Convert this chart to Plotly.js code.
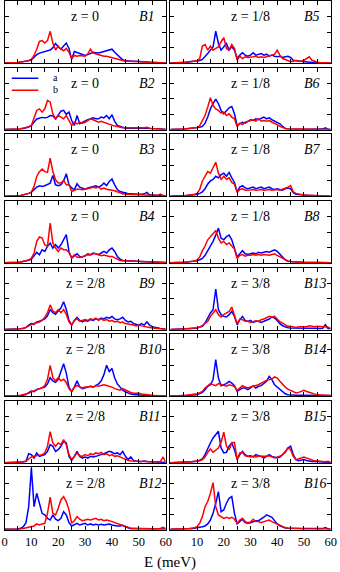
<!DOCTYPE html>
<html>
<head>
<meta charset="utf-8">
<script src="https://cdn.plot.ly/plotly-3.0.1.min.js"></script>
<style>
  html, body { margin: 0; padding: 0; background: #fff; }
  #plot { width: 340px; height: 572px; }
</style>
</head>
<body>
<div id="plot"></div>
<script>
// energy grid (meV)
var E = [0,1,2,3,4,5,6,7,8,9,10,11,12,13,14,15,16,17,18,19,20,21,22,23,24,25,26,27,28,29,
         30,31,32,33,34,35,36,37,38,39,40,41,42,43,44,45,46,47,48,49,50,51,52,53,54,55,56,57,58,59,60];

// "a" (blue) and "b" (red) spectra, one pair per panel
var b1a = [0.02,0.02,0.03,0.03,0.04,0.05,0.07,0.09,0.12,0.15,
  0.22,0.4,0.55,0.65,0.7,0.72,0.8,0.85,1.0,1.27, 1.05,0.9,1.1,1.3,0.95,0.25,0.75,0.7,0.6,0.55,
  0.5,0.55,0.6,0.7,0.68,0.65,0.7,0.75,0.8,0.85, 0.9,0.7,0.55,0.35,0.22,0.15,0.13,0.12,0.13,0.12,
  0.12,0.12,0.1,0.08,0.06,0.05,0.04,0.03,0.03,0.02,0.02];
var b1b = [0.02,0.02,0.03,0.03,0.04,0.05,0.07,0.1,0.13,0.18,
  0.25,0.5,0.9,1.4,1.45,1.3,1.45,2.05,1.3,0.85, 1.1,0.9,0.8,0.95,0.7,0.3,0.5,0.45,0.5,0.45,
  0.45,0.6,0.9,0.65,0.6,0.55,0.5,0.45,0.45,0.4, 0.35,0.3,0.25,0.2,0.15,0.13,0.13,0.12,0.13,0.12,
  0.13,0.1,0.1,0.07,0.05,0.04,0.03,0.03,0.02,0.02,0.02];
var b2a = [0.02,0.02,0.03,0.03,0.04,0.05,0.06,0.08,0.12,0.18,
  0.28,0.5,0.7,0.75,0.8,0.78,0.8,0.92,0.9,0.7, 0.92,1.2,1.25,1.0,1.14,0.6,0.28,0.92,0.4,0.5,
  0.6,0.65,0.71,0.77,0.72,0.71,0.82,0.77,0.92,0.71, 0.97,0.55,0.28,0.22,0.17,0.11,0.11,0.1,0.11,0.1,
  0.11,0.1,0.1,0.12,0.09,0.09,0.07,0.07,0.06,0.04,0.03];
var b2b = [0.02,0.02,0.03,0.03,0.04,0.05,0.07,0.1,0.14,0.2,
  0.28,0.71,1.25,1.35,1.14,1.35,1.89,1.78,1.03,0.71, 0.92,0.82,0.71,0.92,0.6,0.28,0.49,0.39,0.49,0.43,
  0.49,0.6,0.71,0.65,0.55,0.49,0.55,0.49,0.39,0.34, 0.28,0.24,0.22,0.17,0.13,0.13,0.13,0.12,0.13,0.13,
  0.13,0.12,0.13,0.17,0.1,0.09,0.07,0.05,0.04,0.03,0.02];
var b3a = [0.02,0.02,0.03,0.03,0.04,0.05,0.07,0.1,0.14,0.2,
  0.28,0.45,0.6,0.69,0.65,0.69,0.75,0.86,1.35,0.75, 0.7,0.75,1.0,1.46,0.75,0.55,0.43,0.82,0.6,0.54,
  0.47,0.54,0.6,0.65,0.69,0.6,0.69,0.86,0.7,0.97, 1.12,0.75,0.45,0.32,0.26,0.2,0.17,0.17,0.15,0.15,
  0.15,0.15,0.17,0.26,0.11,0.1,0.08,0.07,0.06,0.05,0.04];
var b3b = [0.02,0.02,0.03,0.03,0.04,0.05,0.07,0.1,0.14,0.2,
  0.28,0.65,1.29,1.6,1.76,1.6,1.55,2.47,1.6,1.07, 0.86,0.86,1.03,0.75,0.75,0.32,0.4,0.47,0.47,0.43,
  0.47,0.5,0.54,0.6,0.54,0.6,0.47,0.54,0.47,0.43, 0.43,0.37,0.3,0.22,0.17,0.15,0.14,0.13,0.13,0.13,
  0.12,0.12,0.11,0.1,0.09,0.08,0.07,0.07,0.15,0.05,0.04];
var b4a = [0.02,0.02,0.03,0.03,0.04,0.05,0.07,0.1,0.13,0.18,
  0.26,0.45,0.69,0.54,0.86,0.75,1.08,1.29,0.97,1.18, 0.97,1.18,1.5,1.83,0.75,0.32,0.47,0.6,0.43,0.39,
  0.47,0.6,0.54,0.65,0.6,0.54,0.65,0.75,0.65,0.86, 0.97,0.75,0.43,0.26,0.17,0.15,0.14,0.13,0.13,0.12,
  0.12,0.11,0.1,0.09,0.08,0.07,0.06,0.05,0.05,0.04,0.04];
var b4b = [0.02,0.02,0.03,0.03,0.04,0.05,0.07,0.1,0.14,0.2,
  0.3,0.65,1.4,1.68,1.61,1.18,1.08,2.58,1.3,0.97, 0.75,0.97,0.86,0.86,0.69,0.32,0.54,0.39,0.37,0.43,
  0.47,0.54,0.52,0.6,0.6,0.54,0.47,0.52,0.47,0.43, 0.43,0.34,0.26,0.17,0.15,0.14,0.13,0.13,0.13,0.12,
  0.12,0.11,0.1,0.09,0.08,0.07,0.06,0.05,0.05,0.04,0.04];
var b5a = [0.02,0.02,0.03,0.03,0.04,0.05,0.06,0.08,0.1,0.12,
  0.13,0.18,0.24,0.41,0.62,0.84,1.05,2.06,1.27,0.84, 1.05,1.27,0.84,1.05,0.84,0.3,0.52,0.67,0.52,0.45,
  0.52,0.67,0.52,0.56,0.62,0.52,0.58,0.45,0.52,0.45, 0.41,0.45,0.37,0.41,0.45,0.37,0.19,0.15,0.13,0.09,
  0.09,0.07,0.04,0.04,0.03,0.03,0.03,0.02,0.02,0.02,0.02];
var b5b = [0.02,0.02,0.03,0.03,0.04,0.05,0.07,0.09,0.11,0.13,
  0.15,0.3,1.1,1.2,0.84,1.1,0.84,0.95,1.05,1.38, 1.65,0.95,0.84,1.2,0.95,0.19,0.45,0.3,0.41,0.37,
  0.37,0.41,0.45,0.37,0.41,0.37,0.41,0.45,0.52,0.58, 0.84,0.52,0.3,0.24,0.19,0.09,0.13,0.19,0.15,0.13,
  0.19,0.3,0.41,0.19,0.11,0.06,0.04,0.03,0.02,0.02,0.02];
var b6a = [0.02,0.02,0.03,0.03,0.04,0.05,0.06,0.08,0.1,0.12,
  0.13,0.17,0.22,0.43,0.82,1.35,1.68,1.98,1.68,1.25, 1.03,1.25,1.42,1.5,1.03,0.28,0.39,0.49,0.43,0.56,
  0.65,0.6,0.71,0.65,0.71,0.82,0.71,0.77,0.65,0.56, 0.49,0.39,0.22,0.09,0.06,0.05,0.05,0.05,0.04,0.04,
  0.04,0.04,0.04,0.04,0.04,0.04,0.04,0.05,0.13,0.03,0.02];
var b6b = [0.02,0.02,0.03,0.03,0.04,0.05,0.07,0.09,0.11,0.13,
  0.15,0.28,0.56,0.92,1.46,2.06,1.57,1.35,1.25,1.08, 1.14,0.92,1.03,0.82,0.71,0.22,0.43,0.34,0.49,0.56,
  0.6,0.65,0.56,0.71,0.56,0.6,0.56,0.6,0.49,0.43, 0.34,0.22,0.13,0.09,0.07,0.06,0.05,0.05,0.04,0.04,
  0.04,0.04,0.03,0.03,0.03,0.03,0.03,0.03,0.02,0.02,0.02];
var b7a = [0.02,0.02,0.03,0.03,0.04,0.05,0.06,0.08,0.1,0.12,
  0.13,0.2,0.3,0.5,0.8,1.0,1.1,1.3,1.2,1.4, 1.5,1.3,1.55,1.2,0.9,0.3,0.6,0.7,0.55,0.5,
  0.55,0.6,0.5,0.55,0.6,0.5,0.55,0.6,0.5,0.45, 0.5,0.45,0.4,0.5,0.55,0.5,0.25,0.15,0.12,0.1,
  0.09,0.08,0.07,0.06,0.05,0.05,0.04,0.04,0.03,0.03,0.02];
var b7b = [0.02,0.02,0.03,0.03,0.04,0.05,0.07,0.09,0.11,0.14,
  0.2,0.45,1.0,1.3,1.6,1.5,1.9,2.2,1.5,1.1, 1.3,1.1,1.2,0.9,0.8,0.25,0.45,0.5,0.4,0.4,
  0.42,0.45,0.4,0.42,0.45,0.4,0.42,0.45,0.4,0.42, 0.45,0.4,0.45,0.5,0.6,0.7,0.3,0.2,0.15,0.12,
  0.1,0.09,0.08,0.07,0.06,0.05,0.04,0.04,0.03,0.03,0.02];
var b8a = [0.02,0.02,0.03,0.03,0.04,0.05,0.06,0.08,0.1,0.12,
  0.15,0.22,0.3,0.5,0.8,1.1,1.4,1.8,2.25,1.6, 1.5,1.7,1.8,1.5,1.0,0.4,0.6,0.8,0.6,0.55,
  0.6,0.65,0.6,0.7,0.65,0.7,0.75,0.7,0.8,0.85, 0.75,0.6,0.4,0.2,0.12,0.1,0.08,0.07,0.06,0.06,
  0.05,0.05,0.05,0.04,0.04,0.04,0.03,0.03,0.03,0.02,0.02];
var b8b = [0.02,0.02,0.03,0.03,0.04,0.05,0.07,0.09,0.11,0.14,
  0.2,0.4,0.8,1.1,1.5,1.7,1.9,2.1,1.6,1.3, 1.4,1.2,1.3,1.1,0.9,0.3,0.5,0.55,0.45,0.5,
  0.5,0.55,0.5,0.55,0.5,0.55,0.5,0.5,0.55,0.6, 0.5,0.4,0.3,0.2,0.14,0.1,0.08,0.07,0.06,0.06,
  0.05,0.05,0.04,0.04,0.04,0.03,0.03,0.03,0.02,0.02,0.02];
var b9a = [0.02,0.02,0.03,0.03,0.04,0.05,0.06,0.08,0.15,0.3,
  0.4,0.35,0.5,0.55,0.6,0.7,0.9,1.3,1.1,1.0, 1.2,1.4,1.8,1.3,0.6,0.3,0.6,0.8,0.6,0.5,
  0.6,0.55,0.65,0.6,0.7,0.65,0.75,0.7,0.8,0.75, 0.85,0.7,0.65,0.7,0.8,0.6,0.5,0.55,0.4,0.35,
  0.3,0.4,0.3,0.5,0.3,0.2,0.15,0.1,0.08,0.06,0.04];
var b9b = [0.02,0.02,0.03,0.03,0.04,0.05,0.07,0.1,0.15,0.25,
  0.35,0.4,0.45,0.5,0.6,0.8,1.1,1.6,1.2,1.1, 1.3,1.1,1.3,1.0,0.5,0.3,0.6,0.7,0.55,0.6,
  0.65,0.6,0.7,0.65,0.75,0.6,0.7,0.6,0.65,0.55, 0.6,0.5,0.55,0.45,0.5,0.4,0.35,0.3,0.3,0.25,
  0.3,0.25,0.2,0.2,0.15,0.12,0.1,0.08,0.06,0.05,0.04];
var b10a = [0.02,0.02,0.03,0.03,0.04,0.05,0.06,0.08,0.12,0.25,
  0.35,0.3,0.45,0.5,0.55,0.6,0.8,1.2,1.0,0.9, 1.1,1.6,2.1,1.5,0.6,0.3,0.6,1.0,0.6,0.5,
  0.55,0.6,0.65,0.6,0.7,0.8,1.0,1.4,2.0,1.6, 1.8,1.2,0.8,0.6,0.4,0.3,0.2,0.15,0.12,0.1,
  0.09,0.08,0.07,0.06,0.05,0.05,0.04,0.04,0.03,0.03,0.02];
var b10b = [0.02,0.02,0.03,0.03,0.04,0.05,0.07,0.1,0.14,0.2,
  0.3,0.35,0.4,0.45,0.55,0.7,1.1,2.0,1.2,1.0, 1.2,1.0,1.1,0.9,0.5,0.3,0.6,0.7,0.6,0.55,
  0.6,0.6,0.65,0.6,0.7,0.65,0.7,0.75,0.7,0.65, 0.6,0.5,0.45,0.4,0.5,0.4,0.3,0.25,0.2,0.2,
  0.2,0.15,0.12,0.1,0.08,0.07,0.06,0.05,0.04,0.04,0.03];
var b11a = [0.02,0.02,0.03,0.03,0.04,0.05,0.06,0.08,0.11,0.6,
  0.54,0.32,0.65,0.43,0.47,0.54,0.75,1.18,1.08,0.75, 0.86,1.08,1.4,1.29,0.43,0.17,0.43,0.75,0.43,0.32,
  0.39,0.32,0.43,0.39,0.43,0.47,0.54,0.6,0.65,0.75, 0.69,0.6,0.65,0.54,0.75,0.43,0.22,0.39,0.17,0.11,
  0.09,0.1,0.13,0.1,0.09,0.09,0.07,0.06,0.05,0.04,0.04];
var b11b = [0.02,0.02,0.03,0.03,0.04,0.05,0.07,0.09,0.11,0.26,
  0.39,0.43,0.47,0.47,0.54,0.65,1.08,2.02,1.29,1.08, 1.29,1.18,1.5,1.18,0.54,0.22,0.47,0.65,0.47,0.43,
  0.54,0.47,0.6,0.54,0.65,0.6,0.69,0.54,0.6,0.47, 0.54,0.43,0.47,0.39,0.32,0.26,0.17,0.13,0.13,0.12,
  0.11,0.1,0.1,0.09,0.09,0.09,0.08,0.07,0.08,0.39,0.05];
var b12a = [0.02,0.02,0.03,0.03,0.03,0.04,0.09,0.19,0.45,1.48,
  3.96,1.48,2.34,1.7,1.05,0.95,0.73,0.62,0.95,0.67, 0.58,0.73,1.16,0.95,0.45,0.24,0.3,0.41,0.3,0.37,
  0.41,0.3,0.37,0.3,0.34,0.3,0.34,0.3,0.34,0.37, 0.3,0.26,0.24,0.24,0.28,0.19,0.11,0.06,0.06,0.05,
  0.05,0.05,0.05,0.05,0.05,0.04,0.04,0.04,0.04,0.04,0.04];
var b12b = [0.02,0.02,0.02,0.02,0.03,0.03,0.05,0.08,0.11,0.15,
  0.19,0.24,0.37,0.3,0.37,0.41,1.05,2.09,1.05,0.95, 1.38,1.91,2.13,1.81,1.27,0.41,0.58,0.84,0.67,0.58,
  0.62,0.67,0.62,0.67,0.73,0.62,0.67,0.58,0.62,0.58, 0.52,0.45,0.37,0.3,0.24,0.19,0.13,0.09,0.09,0.08,
  0.08,0.07,0.07,0.07,0.06,0.06,0.06,0.06,0.08,0.15,0.06];
var b13a = [0.02,0.02,0.03,0.03,0.04,0.05,0.06,0.07,0.08,0.09,
  0.11,0.17,0.22,0.43,0.75,1.08,1.29,2.62,1.29,0.97, 0.86,0.82,0.97,1.18,0.86,0.32,0.65,0.86,0.6,0.54,
  0.6,0.47,0.54,0.54,0.47,0.54,0.65,0.69,0.82,0.75, 0.6,0.39,0.26,0.17,0.13,0.12,0.11,0.1,0.1,0.1,
  0.1,0.09,0.09,0.09,0.08,0.08,0.08,0.1,0.32,0.08,0.06];
var b13b = [0.02,0.02,0.03,0.03,0.04,0.05,0.07,0.08,0.1,0.11,
  0.13,0.18,0.26,0.43,0.54,0.86,1.08,1.29,0.97,0.82, 0.97,1.08,1.18,1.46,0.86,0.39,0.69,0.65,0.54,0.54,
  0.47,0.52,0.58,0.54,0.65,0.69,0.75,0.86,0.82,0.86, 0.69,0.52,0.43,0.32,0.22,0.22,0.17,0.15,0.19,0.2,
  0.22,0.2,0.26,0.22,0.2,0.22,0.2,0.19,0.2,0.17,0.09];
var b14a = [0.02,0.02,0.03,0.03,0.04,0.05,0.06,0.07,0.08,0.09,
  0.11,0.18,0.26,0.43,0.65,0.75,1.08,2.37,1.18,0.69, 0.75,0.82,0.97,0.86,0.69,0.32,0.43,0.54,0.54,0.43,
  0.54,0.69,0.54,0.65,0.69,0.82,0.97,1.29,1.08,0.75, 0.6,0.43,0.26,0.17,0.11,0.09,0.09,0.08,0.08,0.08,
  0.08,0.08,0.07,0.07,0.07,0.07,0.07,0.06,0.06,0.06,0.06];
var b14b = [0.02,0.02,0.03,0.03,0.04,0.05,0.07,0.09,0.11,0.13,
  0.17,0.24,0.32,0.54,0.69,0.82,0.75,0.69,0.82,0.75, 0.69,0.65,0.75,0.69,0.65,0.39,0.54,0.69,0.6,0.54,
  0.6,0.65,0.69,0.75,0.86,0.97,1.03,1.08,1.12,1.25, 1.18,0.97,0.75,0.6,0.47,0.39,0.26,0.22,0.26,0.32,
  0.39,0.32,0.26,0.17,0.12,0.1,0.09,0.08,0.08,0.07,0.06];
var b15a = [0.02,0.02,0.03,0.03,0.04,0.05,0.06,0.07,0.08,0.09,
  0.11,0.18,0.26,0.54,0.97,1.29,1.61,1.83,2.04,0.97, 0.65,0.69,1.08,1.29,0.86,0.22,0.54,0.75,0.54,0.43,
  0.47,0.39,0.54,0.47,0.43,0.32,0.43,0.54,0.43,0.39, 0.32,0.39,0.54,0.69,0.97,1.08,0.54,0.22,0.15,0.17,
  0.22,0.17,0.11,0.1,0.1,0.09,0.08,0.07,0.06,0.05,0.04];
var b15b = [0.02,0.02,0.03,0.03,0.04,0.05,0.06,0.07,0.08,0.09,
  0.11,0.15,0.22,0.39,0.69,0.9,0.69,0.86,0.97,1.33, 1.98,1.08,0.86,1.29,1.33,0.22,0.65,0.69,0.47,0.43,
  0.39,0.43,0.39,0.43,0.43,0.39,0.43,0.47,0.39,0.32, 0.39,0.43,0.54,0.75,0.97,0.86,0.43,0.22,0.26,0.32,
  0.39,0.32,0.26,0.17,0.14,0.13,0.11,0.1,0.09,0.11,0.04];
var b16a = [0.02,0.02,0.02,0.03,0.03,0.04,0.04,0.05,0.06,0.09,
  0.11,0.15,0.19,0.24,0.37,0.62,1.05,1.7,2.45,1.16, 1.27,1.7,2.02,2.13,1.05,0.37,0.52,0.67,0.45,0.41,
  0.45,0.52,0.58,0.58,0.67,0.8,0.95,0.88,0.8,0.58, 0.37,0.24,0.15,0.11,0.1,0.09,0.08,0.08,0.07,0.07,
  0.07,0.07,0.07,0.07,0.07,0.07,0.07,0.07,0.13,0.05,0.04];
var b16b = [0.02,0.02,0.03,0.03,0.04,0.05,0.06,0.07,0.09,0.13,
  0.19,0.41,0.84,1.48,1.81,2.34,3.03,1.48,0.95,0.84, 0.73,0.8,0.73,0.8,0.67,0.41,0.62,0.73,0.52,0.45,
  0.49,0.67,0.52,0.52,0.45,0.52,0.58,0.62,0.52,0.45, 0.37,0.28,0.19,0.13,0.11,0.09,0.08,0.07,0.07,0.06,
  0.06,0.06,0.05,0.05,0.05,0.05,0.05,0.04,0.04,0.04,0.04];

// panels: left column top to bottom, then right column
var panelNames = ['B1','B2','B3','B4','B9','B10','B11','B12',
                  'B5','B6','B7','B8','B13','B14','B15','B16'];
var zLabels = ['0','0','0','0','2/8','2/8','2/8','2/8',
               '1/8','1/8','1/8','1/8','3/8','3/8','3/8','3/8'];
var seriesA = [b1a,b2a,b3a,b4a,b9a,b10a,b11a,b12a,b5a,b6a,b7a,b8a,b13a,b14a,b15a,b16a];
var seriesB = [b1b,b2b,b3b,b4b,b9b,b10b,b11b,b12b,b5b,b6b,b7b,b8b,b13b,b14b,b15b,b16b];
var legendNames = ['a', 'b'];
var xTicksLeft = [0,10,20,30,40,50,60];
var xTicksRight = [10,20,30,40,50,60];
var yTicks = [1,2,3];

(function () {
  var W = 340, H = 572;
  var serif = '"Liberation Serif", "Times New Roman", Times, serif';
  var colX = [[4.5/W, 165.7/W], [170.3/W, 330.7/W]];

  var data = [];
  var layout = {
    width: W, height: H,
    margin: {l: 0, r: 0, t: 0, b: 0},
    paper_bgcolor: '#fff', plot_bgcolor: '#fff',
    showlegend: false,
    font: {family: serif, color: '#000'},
    annotations: [],
    shapes: []
  };

  for (var i = 0; i < 16; i++) {
    var col = Math.floor(i / 8), row = i % 8;
    var n = i + 1, sfx = n === 1 ? '' : String(n);
    var pTop = 1 + 66.64 * row, pBot = pTop + 62.2;
    var bottomRow = row === 7;

    layout['xaxis' + sfx] = {
      domain: colX[col], anchor: 'y' + sfx, range: [0, 60],
      showline: true, linecolor: '#000', linewidth: 1, mirror: 'ticks',
      ticks: 'inside', ticklen: 4, tickcolor: '#000', tickwidth: 1,
      tickmode: 'array', tickvals: col === 0 ? xTicksLeft : xTicksRight,
      minor: {dtick: 5, tick0: 0, ticks: 'inside', ticklen: 4, tickcolor: '#000'},
      showticklabels: bottomRow,
      tickfont: {family: serif, size: 12.5, color: '#000'},
      showgrid: false, zeroline: false, fixedrange: true
    };
    layout['yaxis' + sfx] = {
      domain: [1 - pBot / H, 1 - pTop / H], anchor: 'x' + sfx, range: [0, 4],
      showline: true, linecolor: '#000', linewidth: 1, mirror: 'ticks',
      ticks: 'inside', ticklen: 4, tickcolor: '#000', tickwidth: 1,
      tickmode: 'array', tickvals: yTicks, showticklabels: false,
      showgrid: false, zeroline: false, fixedrange: true
    };

    data.push({x: E, y: seriesA[i], xaxis: 'x' + sfx, yaxis: 'y' + sfx, name: legendNames[0],
               mode: 'lines', line: {color: '#0000ff', width: 1.5}});
    data.push({x: E, y: seriesB[i], xaxis: 'x' + sfx, yaxis: 'y' + sfx, name: legendNames[1],
               mode: 'lines', line: {color: '#ff0000', width: 1.5}});

    layout.annotations.push({xref: 'x' + sfx, yref: 'y' + sfx, x: 30, y: 3.0,
      text: 'z = ' + zLabels[i], showarrow: false, xanchor: 'center', yanchor: 'middle',
      font: {family: serif, size: 14, color: '#000'}});
    layout.annotations.push({xref: 'x' + sfx, yref: 'y' + sfx, x: 49.2, y: 3.0,
      text: '<i>' + panelNames[i] + '</i>', showarrow: false, xanchor: 'left', yanchor: 'middle',
      font: {family: serif, size: 14, color: '#000'}});
  }

  // small legend inside panel B2
  var legY = [3.31, 2.54], legCol = ['#0000ff', '#ff0000'];
  for (var k = 0; k < 2; k++) {
    layout.shapes.push({type: 'line', xref: 'x2', yref: 'y2', x0: 2.7, x1: 12.6, y0: legY[k], y1: legY[k],
                        line: {color: legCol[k], width: 1.5}});
    layout.annotations.push({xref: 'x2', yref: 'y2', x: 17.4, y: legY[k] + 0.05, text: legendNames[k],
      showarrow: false, xanchor: 'left', yanchor: 'middle', font: {family: serif, size: 10, color: '#000'}});
  }

  layout.annotations.push({xref: 'paper', yref: 'paper', x: 0.5, y: 1 - 562 / H,
    text: 'E (meV)', showarrow: false, xanchor: 'center', yanchor: 'middle',
    font: {family: serif, size: 15, color: '#000'}});

  Plotly.newPlot('plot', data, layout, {displayModeBar: false, staticPlot: true});
})();
</script>
</body>
</html>
